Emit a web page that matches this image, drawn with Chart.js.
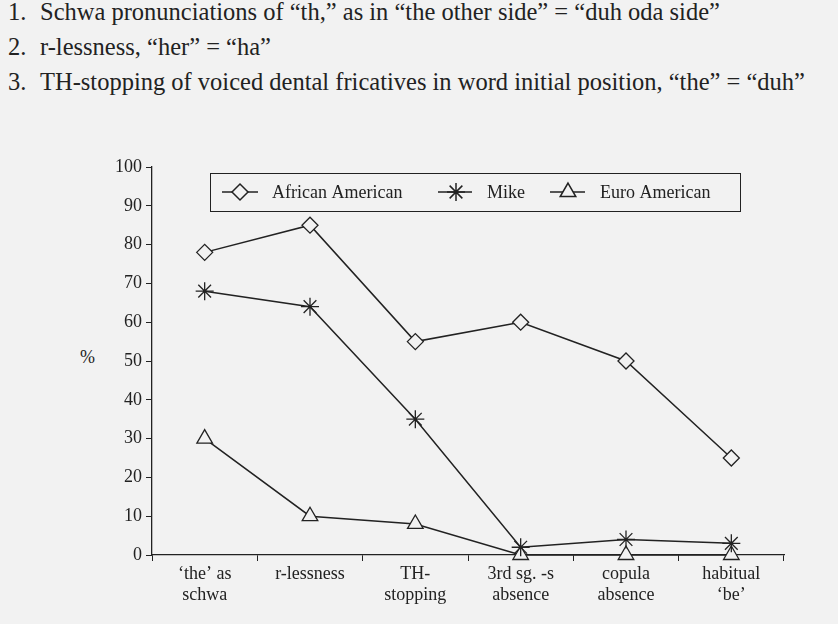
<!DOCTYPE html>
<html>
<head>
<meta charset="utf-8">
<script src="https://cdn.jsdelivr.net/npm/chart.js@4"></script>
<style>
  body { margin: 0; background: #f2f2f2; font-family: "Liberation Serif", serif; color: #222; }
  #page { position: relative; width: 838px; height: 624px; overflow: hidden; }
  .item { position: absolute; left: 8px; font-size: 24.5px; white-space: nowrap; }
  .item span { display: inline-block; width: 32px; }
  #pct { position: absolute; left: 80px; top: 347px; font-size: 18px; }
  #wrap { position: absolute; left: 0; top: 150px; width: 838px; height: 474px; }
</style>
</head>
<body>
<div id="page">
  <div class="item" style="top:-2px"><span>1.</span>Schwa pronunciations of “th,” as in “the other side” = “duh oda side”</div>
  <div class="item" style="top:33px"><span>2.</span>r-lessness, “her” = “ha”</div>
  <div class="item" style="top:68px"><span>3.</span>TH-stopping of voiced dental fricatives in word initial position, “the” = “duh”</div>
  <div id="pct">%</div>
  <div id="wrap"><canvas id="chart"></canvas></div>
</div>
<script>
const kategorien = [["‘the’ as", "schwa"], "r-lessness", ["TH-", "stopping"], ["3rd sg. -s", "absence"], ["copula", "absence"], ["habitual", "‘be’"]];
const afroAm = [78, 85, 55, 60, 50, 25];
const mike = [68, 64, 35, 2, 4, 3];
const euroAm = [30, 10, 8, 0, 0, 0];

const bg = "#f2f2f2";
const schrift = { family: "Liberation Serif", size: 18 };

// legend box drawn on the canvas from the dataset entries
const legendeBox = {
  id: "legendeBox",
  afterDraw(chart) {
    const ctx = chart.ctx;
    ctx.save();
    ctx.strokeStyle = "#222";
    ctx.lineWidth = 1;
    ctx.strokeRect(210.5, 23.5, 530, 38);
    const pos = [[222, 258, 240, 272], [438, 472, 456, 487], [550, 585, 568, 600]];
    chart.data.datasets.forEach((ds, i) => {
      const [x1, x2, mx, tx] = pos[i];
      const y = 42;
      ctx.beginPath();
      ctx.moveTo(x1, y); ctx.lineTo(x2, y);
      ctx.strokeStyle = "#222"; ctx.lineWidth = 1.5; ctx.stroke();
      ctx.fillStyle = bg; ctx.strokeStyle = "#222";
      Chart.helpers.drawPoint(ctx, { pointStyle: ds.pointStyle, radius: ds.pointRadius, borderWidth: 1.3, rotation: 0 }, mx, y);
      ctx.fillStyle = "#222";
      ctx.font = "18px 'Liberation Serif'";
      ctx.textBaseline = "middle";
      ctx.fillText(ds.label, tx, y + 1);
    });
    ctx.restore();
  }
};

function serie(label, data, stil, r) {
  return {
    label, data, clip: false,
    borderColor: "#222", borderWidth: 1.5,
    pointStyle: stil, pointRadius: r, pointHoverRadius: r,
    pointBackgroundColor: bg, pointBorderColor: "#222", pointBorderWidth: 1.3,
    tension: 0
  };
}

new Chart(document.getElementById("chart"), {
  type: "line",
  data: {
    labels: kategorien,
    datasets: [
      serie("African American", afroAm, "rectRot", 8),
      serie("Mike", mike, "star", 9),
      serie("Euro American", euroAm, "triangle", 9)
    ]
  },
  options: {
    responsive: true, maintainAspectRatio: false, animation: false,
    layout: { padding: { top: 17, right: 54, left: 0, bottom: 0 } },
    plugins: { legend: { display: false }, tooltip: { enabled: false } },
    scales: {
      x: {
        offset: true,
        grid: { offset: true, drawOnChartArea: false, color: "#222", tickLength: 6 },
        border: { color: "#222", width: 1.3 },
        ticks: { color: "#222", font: schrift, padding: 2, maxRotation: 0 },
        afterFit: s => { s.height = 69; }
      },
      y: {
        min: 0, max: 100,
        grid: { drawOnChartArea: false, color: "#222", tickLength: 6 },
        border: { color: "#222", width: 1.3 },
        ticks: { stepSize: 10, color: "#222", font: schrift, padding: 4 },
        afterFit: s => { s.width = 152; }
      }
    }
  },
  plugins: [legendeBox]
});
</script>
</body>
</html>
